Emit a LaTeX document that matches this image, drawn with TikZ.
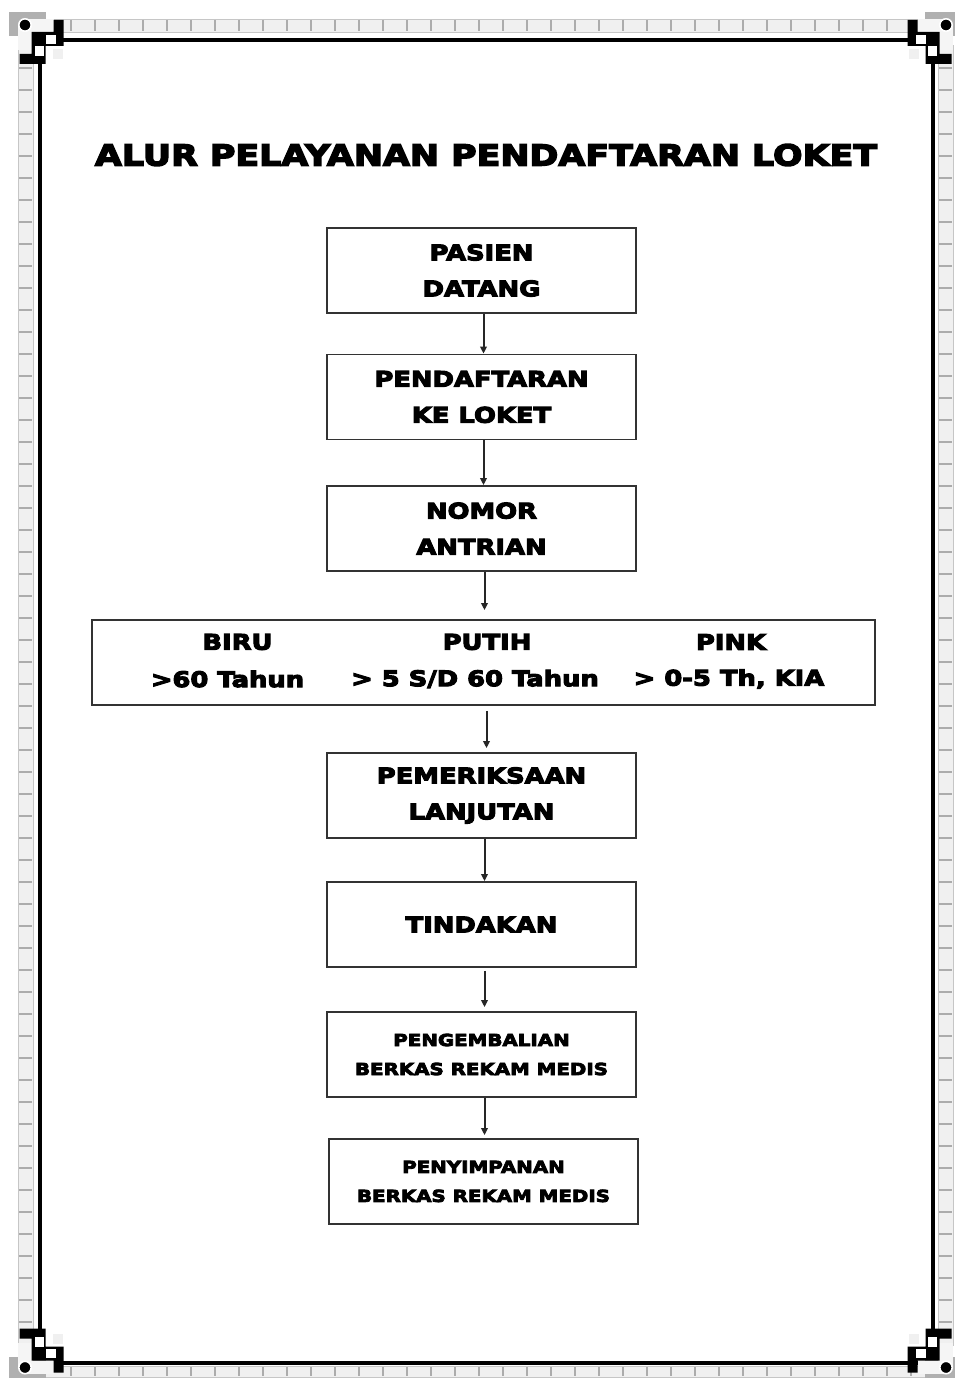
\documentclass[tikz,border=0pt]{standalone}
\usepackage{fontspec}
\newfontfamily\heavy{DejaVu Sans}[FakeStretch=1.2,BoldFeatures={FakeBold=5}]
\usetikzlibrary{arrows.meta}
\newcommand{\framecorner}[4]{%
  \begin{scope}[shift={(#1,#2)},xscale=#3,yscale=#4]
    \fill[gray!62] (-30.5,-28) rectangle (6.5,-4);
    \fill[gray!8] (-21.5,-15) rectangle (-6.5,10);
    \fill[gray!8] (-14.5,-21) rectangle (14,-8);
    \filldraw[fill=black,draw=white,line width=1.6pt] (-14.5,-15) circle (6.2);
    \fill[black] (14,-20) -- (24,-20) -- (24,6) -- (6,6) -- (6,24) -- (-20,24) -- (-20,14) -- (-8,14) -- (-8,-8) -- (14,-8) -- cycle;
    \fill[white] (6,-5) rectangle (16,4);
    \fill[white] (-5,6) rectangle (4,16);
    \fill[gray!12] (13,9) rectangle (23,19);
  \end{scope}}
\begin{document}
\begin{tikzpicture}[x=1pt,y=-1pt]
\tikzset{
  box/.style={draw=black!80, line width=1.8pt, minimum width=309pt, minimum height=85pt,
    inner sep=0pt, align=center, font=\heavy\bfseries\fontsize{21.5}{36}\selectfont},
  smallbox/.style={box, font=\heavy\bfseries\fontsize{16.5}{29}\selectfont},
  rowtext/.style={inner sep=0pt, font=\heavy\bfseries\fontsize{21.5}{26}\selectfont},
  arr/.style={-{Triangle[length=7pt,width=6.5pt]}, line width=2pt, draw=black!85},
  band/.style={fill=gray!12, draw=gray!45, line width=0.8pt},
  tick/.style={draw=gray!65, line width=1.4pt},
  blackline/.style={draw=black, line width=4pt}
}
\useasboundingbox (0,0) rectangle (955,1378);
\fill[white] (0,0) rectangle (955,1378);
% bands
\path[band] (45,19) rectangle (925,32);
\path[band] (45,1366) rectangle (925,1377);
\path[band] (18,45) rectangle (33,1345);
\path[band] (938,45) rectangle (953,1345);
\foreach \x in {71,95,...,911} {
  \draw[tick] (\x,20) -- (\x,31);
  \draw[tick] (\x,1367) -- (\x,1376);
}
\foreach \y in {68,90,...,1340} {
  \draw[tick] (19,\y) -- (32,\y);
  \draw[tick] (939,\y) -- (952,\y);
}
% black frame
\draw[blackline] (39.5,40) -- (932.5,40) -- (932.5,1362.5) -- (39.5,1362.5) -- cycle;
% corners
\framecorner{39.5}{40}{1}{1}
\framecorner{931.5}{40}{-1}{1}
\framecorner{39.5}{1352.5}{1}{-1}
\framecorner{931.5}{1352.5}{-1}{-1}
% title
\node[inner sep=0pt, font=\heavy\bfseries\fontsize{29}{34}\selectfont] (title) at (486,155) {ALUR PELAYANAN PENDAFTARAN LOKET};
% boxes
\node[box] (b1) at (481.5,270.5) {PASIEN\\DATANG};
\node[box] (b2) at (481.5,397) {PENDAFTARAN\\KE LOKET};
\node[box] (b3) at (481.5,528.5) {NOMOR\\ANTRIAN};
\node[draw=black!80, line width=1.8pt, minimum width=783pt, minimum height=85pt, inner sep=0pt] (row) at (483.5,662.5) {};
\node[rowtext] (biru) at (237.5,642) {BIRU};
\node[rowtext] (biruage) at (227.5,679) {>60 Tahun};
\node[rowtext] (putih) at (487,642) {PUTIH};
\node[rowtext] (putihage) at (475,679) {> 5 S/D 60 Tahun};
\node[rowtext] (pink) at (731,642) {PINK};
\node[rowtext] (pinkage) at (729,679) {> 0-5 Th, KIA};
\node[box] (b5) at (481.5,795.5) {PEMERIKSAAN\\LANJUTAN};
\node[box] (b6) at (481.5,924.5) {TINDAKAN};
\node[smallbox] (b7) at (481.5,1054.5) {PENGEMBALIAN\\BERKAS REKAM MEDIS};
\node[smallbox] (b8) at (483.5,1181.5) {PENYIMPANAN\\BERKAS REKAM MEDIS};
% arrows
\coordinate (a1) at ([xshift=2pt]b1.south);
\coordinate (a2) at ([xshift=2pt]b2.south);
\coordinate (a3) at ([xshift=3pt]b3.south);
\coordinate (a4) at ([xshift=3pt]row.south);
\coordinate (a5) at ([xshift=3pt]b5.south);
\coordinate (a6) at ([xshift=3pt]b6.south);
\coordinate (a7) at ([xshift=3pt]b7.south);
\draw[arr] (a1) -- (a1 |- b2.north);
\draw[arr] (a2) -- (a2 |- b3.north);
\draw[arr, shorten >=9pt] (a3) -- (a3 |- row.north);
\draw[arr, shorten <=5pt, shorten >=4pt] (a4) -- (a4 |- b5.north);
\draw[arr] (a5) -- (a5 |- b6.north);
\draw[arr, shorten <=3pt, shorten >=4pt] (a6) -- (a6 |- b7.north);
\draw[arr, shorten >=3pt] (a7) -- (a7 |- b8.north);
\end{tikzpicture}
\end{document}
